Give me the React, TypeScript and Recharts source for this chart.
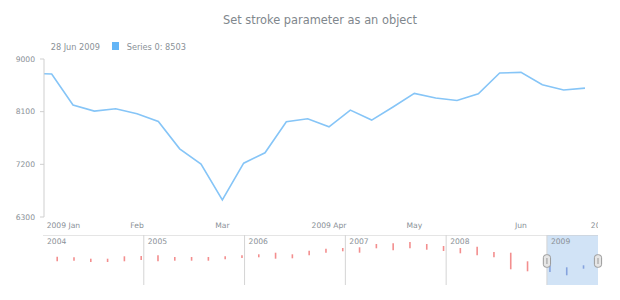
import { LineChart, Line, XAxis, YAxis, BarChart, Bar, ReferenceLine, ReferenceArea, ReferenceDot } from 'recharts'

// weekly closes, first one sits just left of the visible range
const weeks = [
    '28 Dec 2008', '4 Jan 2009', '11 Jan 2009', '18 Jan 2009', '25 Jan 2009',
    '1 Feb 2009', '8 Feb 2009', '15 Feb 2009', '22 Feb 2009',
    '1 Mar 2009', '8 Mar 2009', '15 Mar 2009', '22 Mar 2009', '29 Mar 2009',
    '5 Apr 2009', '12 Apr 2009', '19 Apr 2009', '26 Apr 2009',
    '3 May 2009', '10 May 2009', '17 May 2009', '24 May 2009', '31 May 2009',
    '7 Jun 2009', '14 Jun 2009', '21 Jun 2009', '28 Jun 2009',
]
const values = [
    8760, 8743, 8213, 8110, 8150,
    8064, 7932, 7465, 7203,
    6593, 7220, 7397, 7927, 7979,
    7842, 8127, 7956, 8179,
    8412, 8333, 8292, 8406, 8760,
    8771, 8560, 8470, 8503,
]
const monthTicks = [1, 5, 9, 14, 18, 23, 27]
const monthLabels = ['2009 Jan', 'Feb', 'Mar', '2009 Apr', 'May', 'Jun', '2009 Jul']
const priceTicks = [6300, 7200, 8100, 9000]

// scroller: two-month ranges, Jan 2004 .. May 2009
const scrollHigh = [
    10660, 10660, 10540, 10260, 10260, 10740,
    10800, 10940, 10600, 10600, 10600, 10740,
    10940, 11140, 11460, 11140, 11860, 12260,
    12400, 12540, 13200, 13340, 13600, 13200,
    12800, 12400, 12660, 11600, 11460, 9740,
    9600, 8540, 8940,
]
const scrollLow = [
    10260, 9740, 9860, 9600, 9600, 9740,
    10000, 9740, 9860, 9860, 9860, 10140,
    10400, 10540, 10260, 10340, 10940, 11460,
    11740, 11460, 12340, 11940, 12340, 12060,
    11800, 11340, 10940, 10540, 8140, 7740,
    7600, 6940, 8260,
]
const yearStarts = [0, 6, 12, 18, 24, 30]
const yearLabels = ['2004', '2005', '2006', '2007', '2008', '2009']
const selectedFrom = 30
const selectedTo = 33.04

const textColor = '#8a9197'
const font = '"DejaVu Sans", Verdana, sans-serif'

const mainData = values.map((v, i) => ({ i, date: weeks[i], value: v }))
const scrollData = scrollHigh.map((h, i) => ({
    i,
    past: i < selectedFrom ? [scrollLow[i], h] : null,
    selected: i >= selectedFrom ? [scrollLow[i], h] : null,
}))

const MonthTick = (props: any) => {
    const { x, y, payload, index } = props
    const label = monthLabels[monthTicks.indexOf(payload.value)]
    const first = index === 0
    return (
        <text x={first ? x - 5 : x} y={y} dy="0.71em" textAnchor={first ? 'start' : 'middle'} fill={textColor} fontSize={7.6} fontFamily={font}>
            {label}
        </text>
    )
}

const Handle = (props: any) => {
    const { cx, cy } = props
    return (
        <g>
            <rect x={cx - 3.6} y={cy - 6.3} width={7.2} height={12.6} rx={3} fill="#e6e6e6" stroke="#9a9a9a" strokeWidth={1} />
            <line x1={cx} y1={cy - 3} x2={cx} y2={cy + 3} stroke="#9a9a9a" strokeWidth={1} />
        </g>
    )
}

const App = () => {
    const last = values.length - 1
    return (
        <div style={{ position: 'absolute', left: 0, top: 0, width: 620, height: 300, fontFamily: font, background: '#fff' }}>
            <div style={{ position: 'absolute', left: 120, top: 13, width: 400, textAlign: 'center', fontSize: 11.4, lineHeight: '14px', color: '#7f878d' }}>
                Set stroke parameter as an object
            </div>
            <div style={{ position: 'absolute', left: 50.7, top: 41.5, fontSize: 8.2, lineHeight: '10px', color: textColor, whiteSpace: 'nowrap' }}>
                {weeks[last]}
            </div>
            <div style={{ position: 'absolute', left: 112, top: 42.3, width: 7.3, height: 7.3, background: '#64b5f6' }} />
            <div style={{ position: 'absolute', left: 126.7, top: 41.5, fontSize: 8.2, lineHeight: '10px', color: textColor, whiteSpace: 'nowrap' }}>
                {`Series 0: ${values[last]}`}
            </div>

            <div style={{ position: 'absolute', left: 0, top: 0 }}>
                <LineChart width={598} height={235} data={mainData} margin={{ top: 59, right: 0, bottom: 0, left: 0 }}>
                    <XAxis
                        dataKey="i"
                        type="number"
                        domain={[0.64, 26.61]}
                        allowDataOverflow
                        ticks={monthTicks}
                        interval={0}
                        tick={<MonthTick />}
                        tickLine={false}
                        axisLine={false}
                        tickSize={0}
                        tickMargin={6}
                        height={18}
                    />
                    <YAxis
                        domain={[6300, 9000]}
                        ticks={priceTicks}
                        width={44}
                        tickSize={4}
                        tickMargin={5}
                        tick={{ fill: textColor, fontSize: 7.6, fontFamily: font }}
                        stroke="#cfcfcf"
                    />
                    <Line type="linear" dataKey="value" stroke="#86c5f7" strokeWidth={1.6} dot={false} isAnimationActive={false} />
                </LineChart>
            </div>

            <div style={{ position: 'absolute', left: 0, top: 235 }}>
                <BarChart width={620} height={50} data={scrollData} margin={{ top: 0, right: 22, bottom: 0, left: 43 }}>
                    <XAxis dataKey="i" type="number" domain={[0, selectedTo]} allowDataOverflow hide />
                    <YAxis domain={[5000, 15000]} hide />
                    <ReferenceArea x1={selectedFrom} x2={selectedTo} fill="#d1e3f6" fillOpacity={1} stroke="none" />
                    <ReferenceLine y={15000} stroke="#cccccc" />
                    {yearStarts.map((s, i) => (
                        <ReferenceLine
                            key={s}
                            x={s}
                            stroke={i === 0 ? 'none' : '#d4d4d4'}
                            label={{ value: yearLabels[i], position: 'insideTopLeft', offset: 4, fill: textColor, fontSize: 7.6, fontFamily: font }}
                        />
                    ))}
                    <Bar dataKey="past" fill="#f38e8e" barSize={1.6} isAnimationActive={false} />
                    <Bar dataKey="selected" fill="#86a3de" barSize={1.6} isAnimationActive={false} />
                    <ReferenceDot x={selectedFrom} y={9800} ifOverflow="visible" shape={<Handle />} />
                    <ReferenceDot x={selectedTo} y={9800} ifOverflow="visible" shape={<Handle />} />
                </BarChart>
            </div>
        </div>
    )
}

export default App
